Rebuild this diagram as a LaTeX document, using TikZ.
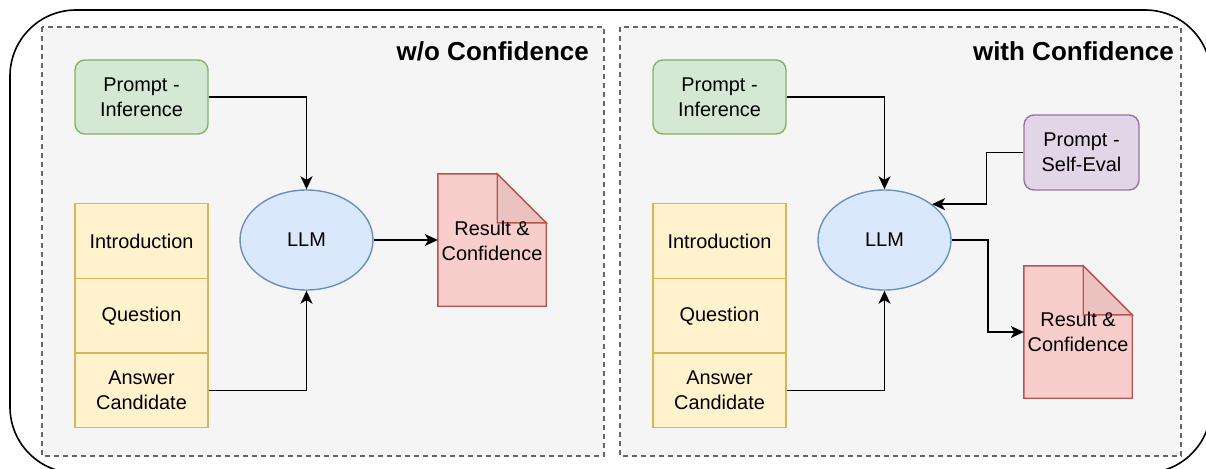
\documentclass[tikz,border=0pt]{standalone}
\usepackage{fontspec}
\setmainfont{Liberation Sans}
\usetikzlibrary{arrows.meta,shapes.geometric}

\definecolor{panelfill}{HTML}{F5F5F5}
\definecolor{paneldraw}{HTML}{666666}
\definecolor{greenfill}{HTML}{D5E8D4}
\definecolor{greendraw}{HTML}{82B366}
\definecolor{bluefill}{HTML}{DAE8FC}
\definecolor{bluedraw}{HTML}{6C8EBF}
\definecolor{yellowfill}{HTML}{FFF2CC}
\definecolor{yellowdraw}{HTML}{D6B656}
\definecolor{redfill}{HTML}{F8CECC}
\definecolor{reddraw}{HTML}{B85450}
\definecolor{redfold}{HTML}{EAC3C1}
\definecolor{purplefill}{HTML}{E1D5E7}
\definecolor{purpledraw}{HTML}{9673A6}

% document shape drawn around a named node
\newcommand{\docpaper}[1]{%
  \path[docshape] (#1.south west) -- (#1.north west) -- ([xshift=-49pt]#1.north east)
    -- ([yshift=-49pt]#1.north east) -- (#1.south east) -- cycle;
  \path[foldshape] ([xshift=-49pt]#1.north east) -- ([yshift=-49pt]#1.north east)
    -- ([xshift=-49pt,yshift=-49pt]#1.north east) -- cycle;
}

\begin{document}
\begin{tikzpicture}[x=1pt,y=-1pt,
  every node/.style={font=\fontsize{19.9}{25}\selectfont, align=center, text=black, inner sep=0pt},
  panel/.style={draw=paneldraw, fill=panelfill, line width=1.5pt, dash pattern=on 5pt off 4pt},
  title/.style={font=\fontsize{26}{30}\selectfont\bfseries, anchor=base east},
  promptbox/.style={draw, rounded corners=10pt, line width=1.4pt, minimum width=133pt, minimum height=74pt},
  greenbox/.style={promptbox, fill=greenfill, draw=greendraw},
  purplebox/.style={promptbox, fill=purplefill, draw=purpledraw, minimum width=115pt, minimum height=75pt},
  cell/.style={draw=yellowdraw, fill=yellowfill, line width=1.4pt, minimum width=133pt, minimum height=74.7pt},
  llm/.style={ellipse, draw=bluedraw, fill=bluefill, line width=1.4pt, minimum width=133pt, minimum height=100pt},
  docbox/.style={minimum width=108pt, minimum height=132pt},
  docshape/.style={draw=reddraw, fill=redfill, line width=1.4pt},
  foldshape/.style={draw=reddraw, fill=redfold, line width=1.4pt, line join=miter},
  flow/.style={draw=black, line width=1.6pt, -{Stealth[length=13pt, width=12pt, inset=3.5pt]}}
]
\useasboundingbox (0,0) rectangle (1206,468);
\clip (0,0) rectangle (1206,468);

% outer frame
\draw[line width=1.6pt, rounded corners=66pt] (10,10) rectangle (1211,473);

% the two panels
\path[panel] (42,27) rectangle (604,456);
\path[panel] (620,27) rectangle (1181,456);
\node[title] (t1) at (589,61) {w/o Confidence};
\node[title] (t2) at (1174,61) {with Confidence};

% ---- left panel: without confidence
\node[greenbox] (pi1) at (141.5,97) {Prompt -\\Inference};
\node[llm] (llm1) at (306.5,240) {LLM};
\node[cell] (intro1) at (141.5,241) {Introduction};
\node[cell] (q1) at (141.5,315.7) {Question};
\node[cell] (ans1) at (141.5,390.4) {Answer\\Candidate};
\node[docbox] (doc1) at (492,240) {};
\docpaper{doc1}
\node at ([yshift=-1pt]doc1.center) {Result \&\\Confidence};

\draw[flow] (pi1.east) -| (llm1.north);
\draw[flow] (ans1.east) -| (llm1.south);
\draw[flow] (llm1.east) -- (doc1.west);

% ---- right panel: with confidence
\node[greenbox] (pi2) at (719.5,97) {Prompt -\\Inference};
\node[purplebox] (pe) at (1081.5,152.5) {Prompt -\\Self-Eval};
\node[llm] (llm2) at (884.5,240) {LLM};
\node[cell] (intro2) at (719.5,241) {Introduction};
\node[cell] (q2) at (719.5,315.7) {Question};
\node[cell] (ans2) at (719.5,390.4) {Answer\\Candidate};
\node[docbox] (doc2) at (1078,332) {};
\docpaper{doc2}
\node at (doc2) {Result \&\\Confidence};

\draw[flow] (pi2.east) -| (llm2.north);
\draw[flow] (ans2.east) -| (llm2.south);
\draw[flow] (pe.west) -- ++(-37,0) |- (llm2.north east);
\draw[flow] (llm2.east) -- ++(36,0) |- (doc2.west);
\end{tikzpicture}
\end{document}
